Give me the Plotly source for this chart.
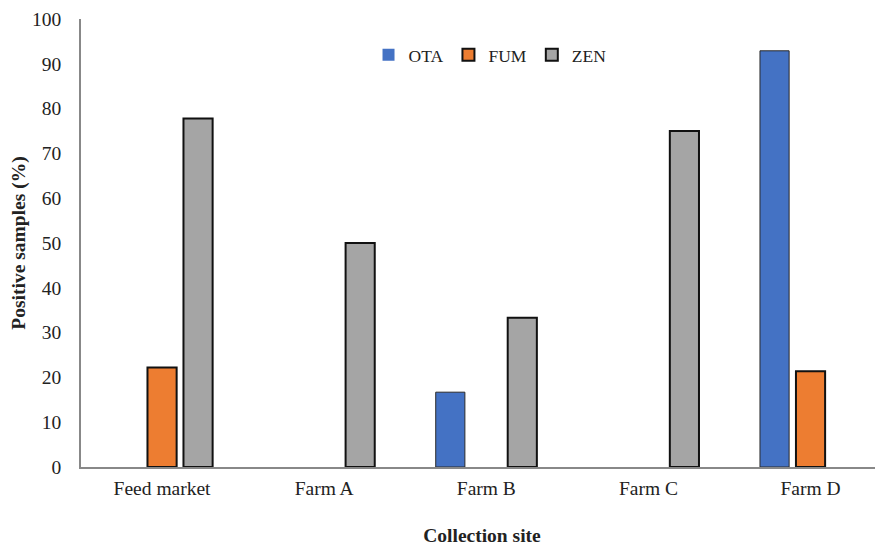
import plotly.graph_objects as go

categories = ["Feed market", "Farm A", "Farm B", "Farm C", "Farm D"]
ota = [0, 0, 16.7, 0, 92.9]
fum = [22.2, 0, 0, 0, 21.4]
zen = [77.8, 50.0, 33.3, 75.0, 0]
y_ticks = [0, 10, 20, 30, 40, 50, 60, 70, 80, 90, 100]

FONT = "Times New Roman, Liberation Serif, DejaVu Serif, serif"


def widths(vals, w):
    return [w if v > 0 else 0 for v in vals]


fig = go.Figure()
fig.add_trace(go.Bar(name="OTA", x=categories, y=ota,
                     marker=dict(color="#4472C4", line=dict(color="#2a2a2a", width=widths(ota, 1)))))
fig.add_trace(go.Bar(name="FUM", x=categories, y=fum,
                     marker=dict(color="#ED7D31", line=dict(color="#111111", width=widths(fum, 2)))))
fig.add_trace(go.Bar(name="ZEN", x=categories, y=zen,
                     marker=dict(color="#A5A5A5", line=dict(color="#111111", width=widths(zen, 2)))))

fig.update_layout(
    width=875, height=538,
    margin=dict(l=73, r=0, t=11, b=79),
    paper_bgcolor="white", plot_bgcolor="white",
    font=dict(family=FONT, size=19.5, color="#222222"),
    barmode="group", bargap=0.334, bargroupgap=0.19,
    showlegend=True,
    legend=dict(orientation="h", x=0.51, y=0.92, xanchor="center", yanchor="middle",
                font=dict(family=FONT, size=17.5, color="#222222"), itemwidth=30,
                bgcolor="rgba(0,0,0,0)"),
)
fig.update_xaxes(
    range=[-0.5, 4.447], showline=True, linecolor="#888888", linewidth=1.5,
    ticks="", showgrid=False, tickfont=dict(family=FONT, size=19.5), automargin=False,
    ticklabelstandoff=3,
    title=dict(text="<b>Collection site</b>", font=dict(family=FONT, size=19.5), standoff=32),
)
fig.update_yaxes(
    range=[0, 100], tickvals=y_ticks, showline=True, linecolor="#888888", linewidth=1.5,
    ticks="", showgrid=False, zeroline=False, tickfont=dict(family=FONT, size=19.5),
    ticklabelstandoff=14, automargin=False,
    title=dict(text="<b>Positive samples (%)</b>", font=dict(family=FONT, size=19.5), standoff=7),
)

fig.write_html("out.html")
